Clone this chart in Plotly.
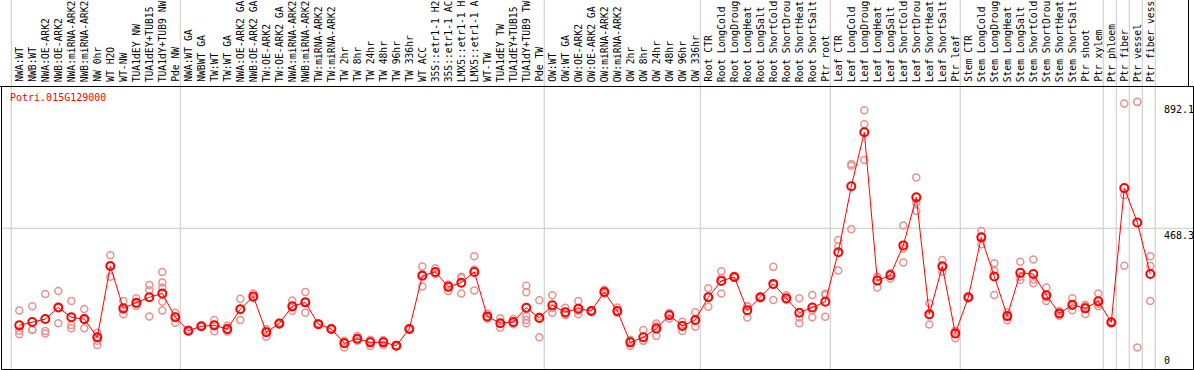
import plotly.graph_objects as go

gene = "Potri.015G129000"

# column labels as they appear (header shows at most 14 characters)
labels = [
    "NWA:WT", "NWB:WT", "NWA:OE-ARK2", "NWB:OE-ARK2", "NWA:miRNA-ARK2", "NWB:miRNA-ARK2",
    "NW 0hr", "WT H2O", "WT-NW", "TUA1dEY NW", "TUA1dEY+TUB15", "TUA1dY+TUB9 NW", "Pde NW",
    "NWA:WT GA", "NWBWT GA", "TW:WT", "TW:WT GA", "NWA:OE-ARK2 GA", "NWB:OE-ARK2 GA",
    "TW:OE-ARK2", "TW:OE-ARK2 GA", "NWA:miRNA-ARK2", "NWB:miRNA-ARK2", "TW:miRNA-ARK2",
    "TW:miRNA-ARK2", "TW 2hr", "TW 8hr", "TW 24hr", "TW 48hr", "TW 96hr", "TW 336hr",
    "WT ACC", "35S::etr1-1 H2", "35S::etr1-1 AC", "LMX5::etr1-1 H", "LMX5::etr1-1 A",
    "WT-TW", "TUA1dEY TW", "TUA1dEY+TUB15", "TUA1dY+TUB9 TW", "Pde TW",
    "OW:WT", "OW:WT GA", "OW:OE-ARK2", "OW:OE-ARK2 GA", "OW:miRNA-ARK2", "OW:miRNA-ARK2",
    "OW 2hr", "OW 8hr", "OW 24hr", "OW 48hr", "OW 96hr", "OW 336hr",
    "Root CTR", "Root LongCold", "Root LongDroug", "Root LongHeat", "Root LongSalt",
    "Root ShortCold", "Root ShortDrou", "Root ShortHeat", "Root ShortSalt", "Ptr root",
    "Leaf CTR", "Leaf LongCold", "Leaf LongDroug", "Leaf LongHeat", "Leaf LongSalt",
    "Leaf ShortCold", "Leaf ShortDrou", "Leaf ShortHeat", "Leaf ShortSalt", "Ptr leaf",
    "Stem CTR", "Stem LongCold", "Stem LongDroug", "Stem LongHeat", "Stem LongSalt",
    "Stem ShortCold", "Stem ShortDrou", "Stem ShortHeat", "Stem ShortSalt", "Ptr shoot",
    "Ptr xylem", "Ptr phloem", "Ptr fiber", "Ptr vessel", "Ptr fiber vess",
]

means = [
    143, 154, 164, 203, 170, 164, 103, 342, 200, 219, 237, 250, 170,
    125, 140, 143, 131, 197, 240, 120, 149, 207, 220, 147, 131, 83, 98, 86, 86, 75, 131,
    309, 322, 272, 286, 322, 173, 150, 154, 202, 168,
    210, 187, 199, 191, 255, 191, 86, 103, 132, 177, 141, 161,
    237, 292, 305, 194, 237, 282, 234, 185, 203, 222,
    388, 609, 790, 293, 311, 411, 572, 180, 341, 116,
    237, 438, 307, 174, 319, 315, 244, 183, 212, 200, 224,
    153, 603, 488, 315,
]

replicates = [
    [193, 125, 113], [207, 127, 129], [248, 124, 116], [258, 150, 201], [225, 144, 133],
    [198, 133, 161], [118, 103, 91, 77], [378, 306, 342], [225, 180, 195], [234, 215, 208],
    [278, 261, 173], [322, 287, 270, 222, 193], [185, 152, 173],
    [128, 122, 125], [142, 138, 140], [161, 123, 145], [128, 122, 142], [232, 161, 198],
    [250, 235, 235], [131, 105, 124], [152, 145, 150], [226, 192, 203], [255, 185, 220],
    [147, 145, 150], [133, 129, 131], [91, 69, 89], [107, 91, 97], [95, 74, 89],
    [94, 77, 88], [77, 73, 75], [133, 129, 131], [340, 273, 315], [334, 316, 316],
    [280, 258, 277], [306, 250, 302], [375, 260, 330], [183, 165, 172], [167, 135, 148],
    [164, 147, 152], [276, 254, 174, 161, 150], [227, 103, 173],
    [244, 185, 201], [202, 180, 178], [225, 180, 192], [194, 188, 191], [262, 250, 253],
    [203, 185, 185], [95, 75, 88], [127, 91, 91], [140, 107, 149], [184, 166, 181],
    [155, 124, 144], [187, 138, 158],
    [267, 205, 239], [324, 250, 302], [308, 302, 305], [206, 169, 207], [240, 234, 237],
    [339, 228, 279], [244, 230, 228], [234, 169, 150], [245, 170, 194], [245, 172, 249],
    [429, 407, 327], [684, 678, 465], [864, 817, 697], [306, 270, 303], [318, 300, 315],
    [478, 401, 354], [639, 554, 526], [217, 146, 177], [362, 323, 338], [125, 100, 123],
    [240, 234, 237], [459, 415, 440], [351, 245, 325], [186, 160, 176], [356, 295, 306],
    [364, 284, 297], [270, 225, 237], [191, 175, 183], [234, 194, 208], [212, 181, 207],
    [250, 215, 207],
    [156, 150, 153], [887, 580, 343], [892.1, 69], [375, 342, 225],
]

group_starts = [0, 13, 41, 53, 63, 73, 84, 85, 86, 87, 88]
tick_vals = [0, 468.3, 892.1]
tick_text = ["0", "468.3", "892.1"]

# ---- geometry ----
W, H = 1194, 370
x0_px, step_px = 19.3, 13.0
xmin = -x0_px / step_px
xmax = xmin + W / step_px
zero_px, grid_px = 368.0, 228.3
kpx = (zero_px - grid_px) / tick_vals[1]
ymax = zero_px / kpx
ymin = -(H - zero_px) / kpx
header_px = 86.5


def py(p):  # pixel y -> paper
    return 1 - p / H


def px(p):  # pixel x -> paper
    return p / W


rx, ry = [], []
for i, r in enumerate(replicates):
    for v in r:
        rx.append(i)
        ry.append(v)

fig = go.Figure()
fig.add_trace(go.Scatter(
    x=rx, y=ry, mode="markers",
    marker=dict(symbol="circle-open", size=7, color="#E89292", line=dict(width=1.5)),
    hoverinfo="skip", showlegend=False, cliponaxis=False,
))
fig.add_trace(go.Scatter(
    x=list(range(len(means))), y=means, mode="lines+markers",
    line=dict(color="#FF0000", width=1),
    marker=dict(symbol="circle-open", size=8, color="#FF0000", line=dict(width=2)),
    showlegend=False, cliponaxis=False,
))

shapes = []
grid = dict(color="#C8C8C8", width=1)
for b in group_starts:
    shapes.append(dict(type="line", xref="x", yref="paper", x0=b - 0.62, x1=b - 0.62,
                       y0=py(369), y1=1, line=grid, layer="below"))
shapes.append(dict(type="line", xref="paper", yref="y", x0=px(1), x1=1,
                   y0=tick_vals[1], y1=tick_vals[1], line=grid, layer="below"))
black = dict(color="black", width=1)
shapes += [
    dict(type="line", xref="paper", yref="paper", x0=0, x1=1, y0=py(header_px), y1=py(header_px), line=black),
    dict(type="line", xref="paper", yref="paper", x0=px(1.5), x1=px(1.5), y0=py(369.5), y1=py(header_px), line=black),
    dict(type="line", xref="paper", yref="paper", x0=px(1.5), x1=px(1193.5), y0=py(369.5), y1=py(369.5), line=black),
    dict(type="line", xref="paper", yref="paper", x0=px(1193.5), x1=px(1193.5), y0=py(369.5), y1=py(header_px), line=black),
    dict(type="line", xref="paper", yref="paper", x0=px(1188.5), x1=px(1188.5), y0=py(header_px), y1=1, line=black),
]

mono = "DejaVu Sans Mono"
annotations = []
for i, lab in enumerate(labels):
    annotations.append(dict(
        x=i, xref="x", y=py(84), yref="paper", text=lab, textangle=-90,
        xanchor="center", yanchor="bottom", showarrow=False,
        font=dict(family=mono, size=9.7, color="black"),
    ))
annotations.append(dict(
    x=px(8), xref="paper", y=py(97), yref="paper", text=gene, xanchor="left", yanchor="middle",
    showarrow=False, font=dict(family=mono, size=10, color="#FF0000"),
))
for v, t in zip(tick_vals, tick_text):
    annotations.append(dict(
        x=px(1162), xref="paper", y=v, yref="y", text=t, xanchor="left",
        yanchor="bottom" if v == 0 else "top", showarrow=False,
        font=dict(family=mono, size=10, color="black"),
    ))

fig.update_layout(
    width=W, height=H, autosize=False,
    margin=dict(l=0, r=0, t=0, b=0, pad=0),
    paper_bgcolor="white", plot_bgcolor="white",
    xaxis=dict(range=[xmin, xmax], visible=False, fixedrange=True),
    yaxis=dict(range=[ymin, ymax], visible=False, fixedrange=True),
    shapes=shapes, annotations=annotations, showlegend=False,
)

fig.write_html(
    "out.html",
    config={"displayModeBar": False},
    post_script="document.body.style.margin='0';document.body.style.overflow='hidden';",
)
